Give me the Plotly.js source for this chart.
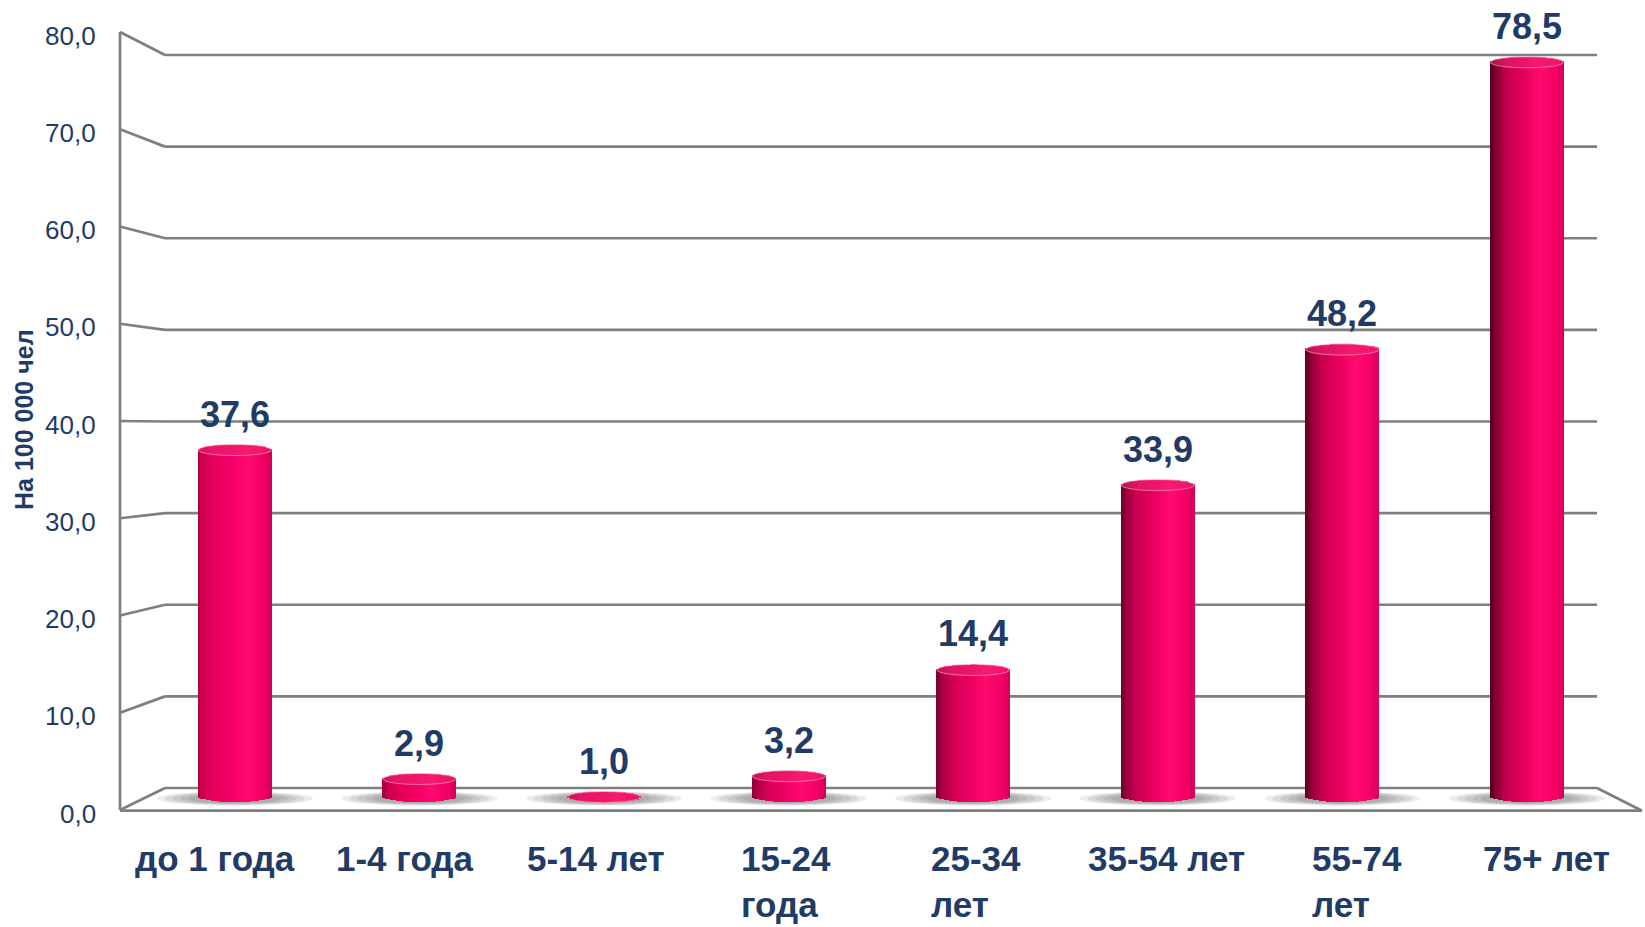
<!DOCTYPE html>
<html>
<head>
<meta charset="utf-8">
<script src="https://cdn.plot.ly/plotly-3.0.1.min.js"></script>
<style>html,body{margin:0;padding:0;background:#fff;}#chart{width:1645px;height:927px;}</style>
</head>
<body>
<div id="chart"></div>
<script>
// ---- data ----
const categories = ['до 1 года', '1-4 года', '5-14 лет', '15-24<br>года', '25-34<br>лет', '35-54 лет', '55-74<br>лет', '75+ лет'];
const values = [37.6, 2.9, 1.0, 3.2, 14.4, 33.9, 48.2, 78.5];
const yTicks = [0, 10, 20, 30, 40, 50, 60, 70, 80];
const yTitle = 'На 100 000 чел';

// ---- style / geometry ----
const W = 1645, H = 927;
const L = 120, R = 1642, T = 32, B = 810;          // front plane (plot area)
const BACK_L = 165, BACK_R = 1597, BACK0 = 788, BACK80 = 55; // back wall
const C0 = 234.75, PITCH = 184.6;                  // bar centres (px)
const Z = 806.5, K = 9.48;                          // bar value scale (px)
const BAR_W_PX = 74, TOP_EH_PX = 5.5, BOT_EH_PX = 6, BOT_C_PX = 796;
const NAVY = '#1F3B66';
const FONT = 'Liberation Sans, Arial, sans-serif';

const xr2 = [(L - C0) / PITCH, (R - C0) / PITCH];
const yr2 = [(Z - B) / K, (Z - T) / K];
const barW = BAR_W_PX / PITCH;
const eTop = TOP_EH_PX / K, eBot = BOT_EH_PX / K;
const b0 = (Z - BOT_C_PX) / K;

const px2p = px => (px - L) / (R - L);
const py2p = py => (B - py) / (B - T);
const frontY = v => B - v * (B - T) / 80;
const backY = v => BACK0 - v * (BACK0 - BACK80) / 80;
const fmt = v => v.toFixed(1).replace('.', ',');

function hex(c) { c = c.replace('#', ''); return [0, 2, 4].map(i => parseInt(c.substr(i, 2), 16)); }
function mixRgb(a, b, f) { return a.map((x, i) => x + (b[i] - x) * f); }
function rgbStr(a) { return 'rgb(' + a.map(x => Math.round(x)).join(',') + ')'; }
function gradAt(stops, t) {
  for (let j = 0; j < stops.length - 1; j++) {
    const [t0, c0] = stops[j], [t1, c1] = stops[j + 1];
    if (t <= t1) return mixRgb(hex(c0), hex(c1), (t - t0) / (t1 - t0));
  }
  return hex(stops[stops.length - 1][1]);
}
const lightProfile = [[0, '#A8003F'], [0.06, '#CC004E'], [0.2, '#E4005A'], [0.5, '#F6006A'], [0.66, '#FF0A6E'], [0.9, '#F00064'], [1, '#C80052']];
const darkProfile = [[0, '#52001F'], [0.08, '#860034'], [0.22, '#C2004C'], [0.45, '#E4005C'], [0.66, '#FF0A6E'], [0.9, '#F40066'], [1, '#D0005A']];
function bodyColor(i, t) {
  const f = i / (values.length - 1);
  return mixRgb(gradAt(lightProfile, t), gradAt(darkProfile, t), f);
}

// ---- traces: cylinders built from thin overlaid bars ----
const N = 28;
const traces = [];
const xs = values.map((v, i) => i);
for (let k = 0; k < N; k++) {
  const t = (k + 0.5) / N;
  const s = Math.sqrt(Math.max(0, 1 - Math.pow(2 * t - 1, 2)));
  const off = -barW / 2 + k * barW / N;
  const wid = (k === N - 1) ? barW / N : barW / N * 1.3;
  traces.push({
    type: 'bar', xaxis: 'x2', yaxis: 'y2', x: xs,
    base: values.map(v => b0 - eBot * s),
    y: values.map(v => Math.max(0, v + eTop * s - (b0 - eBot * s))),
    offset: off, width: wid,
    marker: { color: values.map((v, i) => rgbStr(bodyColor(i, t))), line: { width: 0 } },
    hoverinfo: 'skip', showlegend: false
  });
}
for (let k = 0; k < N; k++) {
  const t = (k + 0.5) / N;
  const s = Math.sqrt(Math.max(0, 1 - Math.pow(2 * t - 1, 2)));
  const off = -barW / 2 + k * barW / N;
  const wid = (k === N - 1) ? barW / N : barW / N * 1.3;
  traces.push({
    type: 'bar', xaxis: 'x2', yaxis: 'y2', x: xs,
    base: values.map(v => v - eTop * s),
    y: values.map(v => 2 * eTop * s),
    offset: off, width: wid,
    marker: { color: values.map((v, i) => rgbStr(mixRgb(bodyColor(i, t), hex('#EE2A72'), 0.5))), line: { width: 0 } },
    hoverinfo: 'skip', showlegend: false
  });
}

// ---- shapes: 3D frame, shadows, cap rims ----
const shapes = [];
const gridLine = { color: '#7F7F7F', width: 2.7 };
yTicks.forEach(v => {
  shapes.push({ type: 'line', xref: 'paper', yref: 'paper', layer: 'below',
    x0: px2p(L), y0: py2p(frontY(v)), x1: px2p(BACK_L), y1: py2p(backY(v)), line: gridLine });
  shapes.push({ type: 'line', xref: 'paper', yref: 'paper', layer: 'below',
    x0: px2p(BACK_L), y0: py2p(backY(v)), x1: px2p(BACK_R), y1: py2p(backY(v)), line: gridLine });
});
// left vertical edge
shapes.push({ type: 'line', xref: 'paper', yref: 'paper', layer: 'below',
  x0: 0, y0: py2p(frontY(0)), x1: 0, y1: py2p(frontY(80)), line: gridLine });
// floor front and right edges
shapes.push({ type: 'line', xref: 'paper', yref: 'paper', layer: 'below',
  x0: 0, y0: py2p(B + 0.7), x1: 1, y1: py2p(B + 0.7), line: gridLine });
shapes.push({ type: 'line', xref: 'paper', yref: 'paper', layer: 'below',
  x0: px2p(BACK_R), y0: py2p(BACK0), x1: 1, y1: py2p(B + 0.7), line: gridLine });
// soft shadows
const shW = [78, 70, 62, 54, 46], shH = [7, 6.5, 6, 5.5, 5];
const shC = (Z - 798.5) / K;
values.forEach((v, i) => {
  shW.forEach((hw, j) => {
    shapes.push({ type: 'circle', xref: 'x2', yref: 'y2', layer: 'below',
      x0: i - hw / PITCH, x1: i + hw / PITCH, y0: shC - shH[j] / K, y1: shC + shH[j] / K,
      fillcolor: 'rgba(70,70,70,0.11)', line: { width: 0 } });
  });
  // rim of the top face
  shapes.push({ type: 'circle', xref: 'x2', yref: 'y2', layer: 'above',
    x0: i - barW / 2 + 0.004, x1: i + barW / 2 - 0.004, y0: v - eTop, y1: v + eTop,
    fillcolor: 'rgba(0,0,0,0)', line: { color: 'rgba(255,140,178,0.75)', width: 1 } });
});

// ---- annotations ----
const annotations = [];
values.forEach((v, i) => {
  annotations.push({ xref: 'x2', yref: 'y2', x: i, y: v + eTop, yanchor: 'bottom', xanchor: 'center',
    yshift: 8, text: fmt(v), showarrow: false,
    font: { family: FONT, size: 36, color: NAVY, weight: 'bold' } });
});
categories.forEach((c, i) => {
  annotations.push({ xref: 'x', yref: 'paper', x: i, y: py2p(837), yanchor: 'top', xanchor: 'center',
    align: 'left', text: c, showarrow: false,
    font: { family: FONT, size: 35, color: NAVY, weight: 'bold' } });
});
yTicks.forEach(v => {
  annotations.push({ xref: 'paper', yref: 'y', x: px2p(98), y: v, xanchor: 'right', yanchor: 'middle',
    yshift: -3.5, text: fmt(v), showarrow: false,
    font: { family: FONT, size: 26, color: NAVY } });
});
annotations.push({ xref: 'paper', yref: 'paper', x: px2p(24), y: py2p(420), xanchor: 'center', yanchor: 'middle',
  textangle: -90, text: yTitle, showarrow: false,
  font: { family: FONT, size: 25, color: NAVY, weight: 'bold' } });

const layout = {
  width: W, height: H,
  margin: { l: L, r: W - R, t: T, b: H - B, pad: 0 },
  paper_bgcolor: '#ffffff', plot_bgcolor: 'rgba(0,0,0,0)',
  barmode: 'overlay', bargap: 0,
  showlegend: false,
  xaxis: { range: [-0.5, 7.5], visible: false, fixedrange: true },
  yaxis: { range: [0, 80], visible: false, fixedrange: true },
  xaxis2: { overlaying: 'x', range: xr2, visible: false, fixedrange: true, type: 'linear' },
  yaxis2: { overlaying: 'y', range: yr2, visible: false, fixedrange: true },
  shapes: shapes,
  annotations: annotations
};

Plotly.newPlot('chart', traces, layout, { displayModeBar: false, staticPlot: true });
</script>
</body>
</html>
